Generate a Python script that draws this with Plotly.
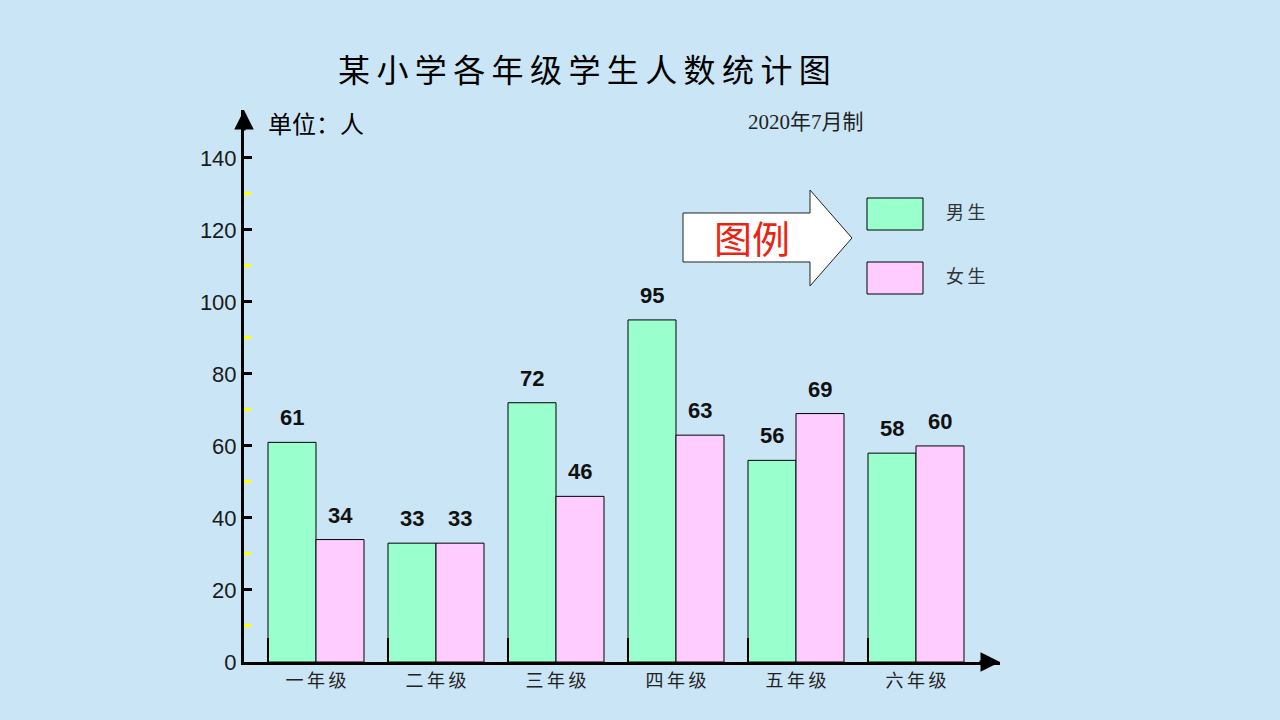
import plotly.graph_objects as go

grades = ["一年级", "二年级", "三年级", "四年级", "五年级", "六年级"]
boys = [61, 33, 72, 95, 56, 58]
girls = [34, 33, 46, 63, 69, 60]
y_ticks = [0, 20, 40, 60, 80, 100, 120, 140]

GREEN = "#99ffcc"
PINK = "#ffccff"
BG = "#cae6f6"
CJK = "Noto Sans CJK SC"
NUM = "Liberation Sans, Arial"

xpos = list(range(len(grades)))

fig = go.Figure()
fig.add_trace(go.Bar(x=xpos, y=boys, name="男生", marker=dict(color=GREEN, line=dict(color="black", width=1)), showlegend=False))
fig.add_trace(go.Bar(x=xpos, y=girls, name="女生", marker=dict(color=PINK, line=dict(color="black", width=1)), showlegend=False))

L, R, T, B = 244, 280, 110, 58
W, H = 1280 - L - R, 720 - T - B

def px(x, y):
    return (x - L) / W, (720 - y - B) / H

annotations = []
for i, (b, g) in enumerate(zip(boys, girls)):
    for off, v in ((-0.2, b), (0.2, g)):
        annotations.append(dict(x=i + off, y=v, xref="x", yref="y", text=f"<b>{v}</b>", showarrow=False,
                                xanchor="center", yanchor="bottom", yshift=10,
                                font=dict(family=NUM, size=22, color="#111111")))

# axis arrowheads
annotations.append(dict(x=0, y=1, xref="paper", yref="paper", ax=0, ay=22, axref="pixel", ayref="pixel",
                        showarrow=True, arrowhead=2, arrowsize=1.3, arrowwidth=3, arrowcolor="black", text=""))
annotations.append(dict(x=1, y=0, xref="paper", yref="paper", ax=-22, ay=0, axref="pixel", ayref="pixel",
                        showarrow=True, arrowhead=2, arrowsize=1.3, arrowwidth=3, arrowcolor="black", text=""))

def label(x, y, text, font):
    xp, yp = px(x, y)
    annotations.append(dict(x=xp, y=yp, xref="paper", yref="paper", text=text, showarrow=False,
                            xanchor="center", yanchor="middle", font=font))

label(584, 68, "某\u2009小\u2009学\u2009各\u2009年\u2009级\u2009学\u2009生\u2009人\u2009数\u2009统\u2009计\u2009图",
      dict(family=CJK, size=32, color="black"))
label(316, 122, "单位：人", dict(family=CJK, size=24, color="black"))
label(806, 122, "2020年7月制", dict(family="Liberation Serif, " + CJK, size=21, color="#222222"))
label(752, 236, "图例", dict(family=CJK, size=38, color="#ee2211"))
label(966, 211, "男\u2009生", dict(family=CJK, size=18, color="#333333"))
label(966, 275, "女\u2009生", dict(family=CJK, size=18, color="#333333"))

shapes = []
# legend arrow
pts = [(683, 213), (810, 213), (810, 190), (852, 238), (810, 286), (810, 262), (683, 262)]
path = "M " + " L ".join(f"{px(x, y)[0]:.5f},{px(x, y)[1]:.5f}" for x, y in pts) + " Z"
shapes.append(dict(type="path", xref="paper", yref="paper", path=path, fillcolor="white",
                   line=dict(color="#222222", width=1), layer="below"))
for (y0, y1, c) in ((198, 230, GREEN), (262, 294, PINK)):
    x0p, y0p = px(867, y1)
    x1p, y1p = px(923, y0)
    shapes.append(dict(type="rect", xref="paper", yref="paper", x0=x0p, y0=y0p, x1=x1p, y1=y1p,
                       fillcolor=c, line=dict(color="black", width=1), layer="above"))

fig.update_layout(
    width=1280, height=720,
    margin=dict(l=L, r=R, t=T, b=B),
    paper_bgcolor=BG, plot_bgcolor="rgba(0,0,0,0)",
    barmode="group", bargap=0.2, bargroupgap=0,
    annotations=annotations, shapes=shapes,
    xaxis=dict(range=[-0.6, 5.7], tickvals=xpos, ticktext=["\u2009".join(g) for g in grades],
               showgrid=False, zeroline=False,
               showline=True, linecolor="black", linewidth=3, ticks="",
               tickfont=dict(family=CJK, size=18, color="#222222"),
               minor=dict(tickvals=[i - 0.4 for i in xpos], ticks="inside", ticklen=24, tickwidth=2, tickcolor="black")),
    yaxis=dict(range=[0, 153.3], tickvals=y_ticks, showgrid=False, zeroline=False,
               showline=True, linecolor="black", linewidth=3,
               ticks="inside", ticklen=8, tickwidth=3, tickcolor="black",
               tickfont=dict(family=NUM, size=22, color="#1a1a1a"),
               minor=dict(tickvals=[v + 10 for v in y_ticks[:-1]], ticks="inside", ticklen=7, tickwidth=3, tickcolor="#ffff00")),
)

fig.write_html("out.html")
